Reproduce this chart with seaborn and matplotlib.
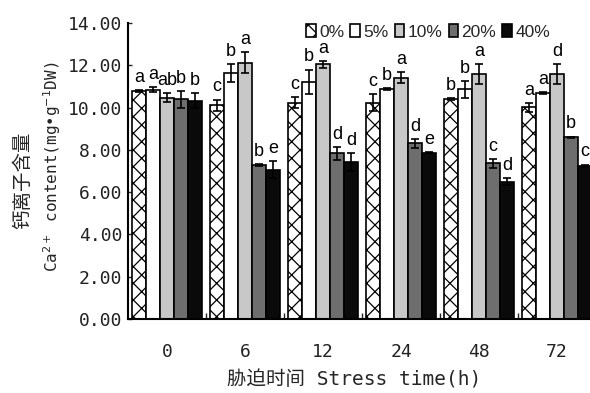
import numpy as np
import pandas as pd
import matplotlib
matplotlib.use("Agg")
import matplotlib.pyplot as plt
from matplotlib.container import BarContainer
import seaborn as sns

times = ["0", "6", "12", "24", "48", "72"]
levels = ["0%", "5%", "10%", "20%", "40%"]

c0 = [10.78, 10.12, 10.23, 10.23, 10.41, 10.01]
c5 = [10.85, 11.62, 11.23, 10.86, 10.86, 10.68]
c10 = [10.47, 12.12, 12.05, 11.42, 11.59, 11.59]
c20 = [10.39, 7.28, 7.84, 8.31, 7.36, 8.59]
c40 = [10.33, 7.05, 7.41, 7.87, 6.50, 7.25]

e0 = [0.03, 0.26, 0.26, 0.39, 0.03, 0.21]
e5 = [0.13, 0.43, 0.57, 0.05, 0.39, 0.06]
e10 = [0.20, 0.49, 0.16, 0.26, 0.47, 0.47]
e20 = [0.39, 0.06, 0.30, 0.20, 0.20, 0.04]
e40 = [0.37, 0.40, 0.43, 0.03, 0.16, 0.05]

l0 = ["a", "c", "c", "c", "b", "a"]
l5 = ["a", "b", "b", "b", "b", "a"]
l10 = ["ab", "a", "a", "a", "a", "d"]
l20 = ["b", "b", "d", "d", "c", "b"]
l40 = ["b", "e", "d", "e", "d", "c"]

values = [c0, c5, c10, c20, c40]
errors = [e0, e5, e10, e20, e40]
letters = [l0, l5, l10, l20, l40]

rows = []
for lv, vals in zip(levels, values):
    for t, v in zip(times, vals):
        rows.append({"time": t, "level": lv, "value": v})
df = pd.DataFrame(rows)

sns.set_theme(style="ticks")
plt.rcParams["hatch.linewidth"] = 0.9
mono = ["DejaVu Sans Mono", "Noto Sans CJK SC"]
cjk = ["Noto Sans CJK SC", "DejaVu Sans"]

fig = plt.figure(figsize=(5.9, 3.93), dpi=100)
ax = fig.add_axes([128 / 590, 74 / 393, 468 / 590, 296 / 393])

colors = ["white", "white", "#c8c8c8", "#6e6e6e", "#0a0a0a"]
sns.barplot(data=df, x="time", y="value", hue="level", order=times,
            hue_order=levels, palette=colors, edgecolor="black",
            linewidth=1.2, errorbar=None, width=0.9, gap=0, saturation=1,
            legend=False, ax=ax)

bars = [c for c in ax.containers if isinstance(c, BarContainer)]
for i, cont in enumerate(bars):
    xs = [p.get_x() + p.get_width() / 2 for p in cont.patches]
    hs = [p.get_height() for p in cont.patches]
    if i == 0:
        for p in cont.patches:
            p.set_hatch("xx")
    ax.errorbar(xs, hs, yerr=errors[i], fmt="none", ecolor="black",
                elinewidth=1.2, capsize=3, capthick=1.2, zorder=5)
    for x, h, er, lab in zip(xs, hs, errors[i], letters[i]):
        ax.text(x, h + er + 0.2, lab, ha="center", va="bottom",
                fontsize=13, family="Liberation Sans", color="black")

ax.set_ylim(0, 14)
ax.set_xlim(-0.5, 5.5)
ax.set_yticks(np.arange(0, 15, 2))
ax.set_yticklabels([f"{v:.2f}" for v in np.arange(0, 15, 2)], family=mono,
                   fontsize=13, color="#222222")
ax.set_xticks(range(len(times)))
ax.set_xticklabels(times, family=mono, fontsize=13, color="#222222")
ax.set_xticks(np.arange(0.5, 5.5, 1), minor=True)
ax.tick_params(axis="x", which="major", length=0, pad=17)
ax.tick_params(axis="x", which="minor", direction="in", length=4, width=1)
ax.tick_params(axis="y", direction="in", length=3, width=1, pad=4)
ax.set_xlabel("")
ax.set_ylabel("")
for s in ["top", "right"]:
    ax.spines[s].set_visible(False)
for s in ["left", "bottom"]:
    ax.spines[s].set_linewidth(1.5)
    ax.spines[s].set_color("black")

ax.legend(bars, levels, loc="center left",
          bbox_to_anchor=(306 / 590, 1 - 32 / 393),
          bbox_transform=fig.transFigure, ncol=5, frameon=False,
          borderpad=0, borderaxespad=0, handlelength=0.55,
          handleheight=0.8, handletextpad=0.2, columnspacing=0.35,
          prop={"family": "Liberation Sans", "size": 12.5})

fig.text(23 / 590, 1 - 180 / 393, "钙离子含量", rotation=90, ha="center",
         va="center", family=cjk, fontsize=14)
fig.text(52 / 590, 1 - 167 / 393, "Ca$^{2+}$ content(mg•g$^{-1}$DW)",
         rotation=90, ha="center", va="center", family=mono, fontsize=11.5)
fig.text((128 + 468 / 2 - 8) / 590, 1 - 380 / 393, "胁迫时间 Stress time(h)",
         ha="center", va="center", family=mono, fontsize=14)

fig.savefig("out.png", dpi=100)
